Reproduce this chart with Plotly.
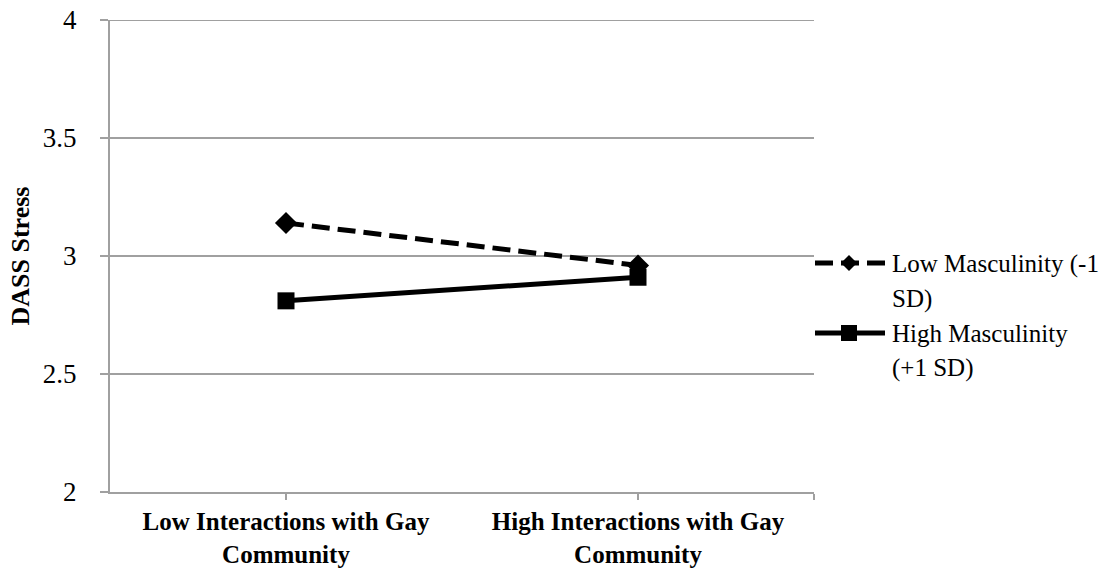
import plotly.graph_objects as go

categories = ["<b>Low Interactions with Gay</b><br><b>Community</b>",
              "<b>High Interactions with Gay</b><br><b>Community</b>"]
cat_pos = [0, 1]
low_masc = [3.14, 2.96]
high_masc = [2.81, 2.91]
series_names = ["Low Masculinity (-1 SD)", "High Masculinity (+1 SD)"]
y_ticks = [2, 2.5, 3, 3.5, 4]
y_range = [2, 4]

FONT = "Liberation Serif"
GRAY = "#A0A0A0"

W, H = 1110, 571
L, R, T, B = 110, 296, 20, 79

fig = go.Figure()
fig.add_trace(go.Scatter(
    x=cat_pos, y=low_masc, name=series_names[0], mode="lines+markers",
    line=dict(color="black", width=5, dash="18px,8px"),
    marker=dict(symbol="diamond", size=17, color="black"),
    cliponaxis=False, showlegend=False))
fig.add_trace(go.Scatter(
    x=cat_pos, y=high_masc, name=series_names[1], mode="lines+markers",
    line=dict(color="black", width=5),
    marker=dict(symbol="square", size=17, color="black"),
    cliponaxis=False, showlegend=False))

fig.update_xaxes(
    range=[-0.5, 1.5], tickvals=cat_pos + [1.5], ticktext=categories + [""],
    showline=True, linecolor=GRAY, linewidth=2, ticks="outside", ticklen=6,
    tickcolor=GRAY, tickwidth=2, showgrid=False, zeroline=False, automargin=False,
    ticklabelstandoff=0, ticklabeloverflow="allow",
    tickfont=dict(family=FONT, size=25, color="black"))
fig.update_yaxes(
    range=y_range, tickvals=y_ticks, ticktext=["2", "2.5", "3", "3.5", "4"],
    showline=True, linecolor=GRAY, linewidth=2, ticks="outside", ticklen=8,
    tickcolor=GRAY, tickwidth=2, showgrid=True, gridcolor=GRAY, gridwidth=2,
    zeroline=False, automargin=False, ticklabelstandoff=18, ticklabeloverflow="allow",
    tickfont=dict(family=FONT, size=27, color="black"),
    title=dict(text="<b>DASS Stress</b>", font=dict(family=FONT, size=26, color="black"),
               standoff=6))

shapes = []
# top gridline at the upper range edge (plotly skips grid lines at the edge)
shapes.append(dict(type="line", xref="paper", yref="y", x0=0, x1=1,
                   y0=y_range[1], y1=y_range[1], line=dict(color=GRAY, width=2),
                   layer="below"))

# manual legend (page pixel positions -> paper coords)
PW = W - L - R
PH = H - T - B

def px_x(p):
    return (p - L) / PW

def px_y(p):
    return (H - B - p) / PH

annotations = []
legend_rows = [
    (263, "18px,8px", "diamond", ["Low Masculinity (-1", "SD)"], [264, 299]),
    (333, "solid", "square", ["High Masculinity", "(+1 SD)"], [333, 368]),
]
for ly, dash, sym, texts, tys in legend_rows:
    shapes.append(dict(type="line", xref="paper", yref="paper",
                       x0=px_x(815), x1=px_x(885), y0=px_y(ly), y1=px_y(ly),
                       line=dict(color="black", width=5, dash=dash)))
    if sym == "diamond":
        shapes.append(dict(type="path", xref="paper", yref="paper",
                           xsizemode="pixel", ysizemode="pixel",
                           xanchor=px_x(849), yanchor=px_y(ly),
                           path="M -8 0 L 0 8 L 8 0 L 0 -8 Z",
                           fillcolor="black", line=dict(color="black", width=0)))
    else:
        shapes.append(dict(type="rect", xref="paper", yref="paper",
                           xsizemode="pixel", ysizemode="pixel",
                           xanchor=px_x(849), yanchor=px_y(ly),
                           x0=-8, x1=8, y0=-8, y1=8,
                           fillcolor="black", line=dict(color="black", width=0)))
    for t, ty in zip(texts, tys):
        annotations.append(dict(text=t, xref="paper", yref="paper",
                                x=px_x(890), y=px_y(ty), xanchor="left", yanchor="middle",
                                showarrow=False,
                                font=dict(family=FONT, size=25, color="black")))

fig.update_layout(
    width=W, height=H,
    margin=dict(l=L, r=R, t=T, b=B),
    paper_bgcolor="white", plot_bgcolor="white",
    shapes=shapes, annotations=annotations, showlegend=False)

fig.write_html("out.html", config={"displayModeBar": False},
               post_script="document.body.style.margin='0';document.body.style.overflow='hidden';")
